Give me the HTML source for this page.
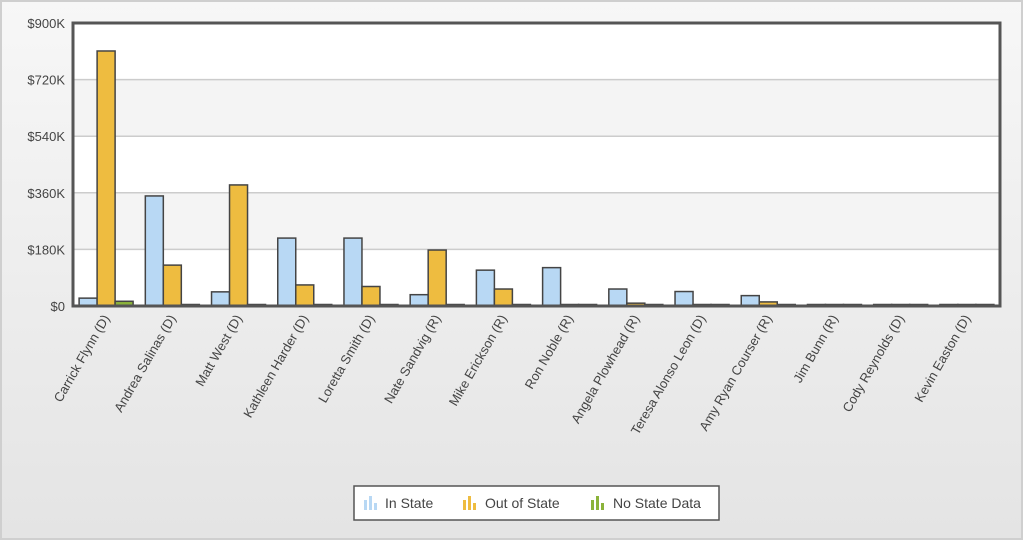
<!DOCTYPE html>
<html><head><meta charset="utf-8"><style>
body{margin:0;width:1024px;height:541px;overflow:hidden;font-family:"Liberation Sans",sans-serif;}
</style></head><body>
<svg width="1024" height="541" xmlns="http://www.w3.org/2000/svg">
<defs><linearGradient id="bg" x1="0" y1="0" x2="0" y2="1"><stop offset="0" stop-color="#f7f7f7"/><stop offset="1" stop-color="#e4e4e4"/></linearGradient></defs>
<rect x="1" y="1" width="1021" height="538" fill="url(#bg)" stroke="#cfcfcf" stroke-width="2"/>
<g id="bands"></g><g id="grid"></g><g id="bars"></g>
<rect x="73" y="23" width="927" height="283" fill="none" stroke="#555" stroke-width="3"/>
<g id="yt"></g><g id="xt"></g>
<g>
<rect x="354" y="486" width="365" height="34" fill="#fff" stroke="#555" stroke-width="1.5"/>
<g fill="#b8d8f4"><rect x="364" y="500" width="3" height="10"/><rect x="369" y="496" width="3" height="14"/><rect x="374" y="503" width="3" height="7"/></g>
<text x="385" y="508" font-size="14" fill="#444">In State</text>
<g fill="#eebc40"><rect x="463" y="500" width="3" height="10"/><rect x="468" y="496" width="3" height="14"/><rect x="473" y="503" width="3" height="7"/></g>
<text x="485" y="508" font-size="14" fill="#444">Out of State</text>
<g fill="#8bb33a"><rect x="591" y="500" width="3" height="10"/><rect x="596" y="496" width="3" height="14"/><rect x="601" y="503" width="3" height="7"/></g>
<text x="613" y="508" font-size="14" fill="#444">No State Data</text>
</g>
</svg>
<script>
const categories=["Carrick Flynn (D)","Andrea Salinas (D)","Matt West (D)","Kathleen Harder (D)","Loretta Smith (D)","Nate Sandvig (R)","Mike Erickson (R)","Ron Noble (R)","Angela Plowhead (R)","Teresa Alonso Leon (D)","Amy Ryan Courser (R)","Jim Bunn (R)","Cody Reynolds (D)","Kevin Easton (D)"];
const inState=[25,350,45,216,216,36,114,122,54,46,33,3,0,0];
const outState=[811,130,385,67,62,178,54,2,9,3,13,3,3,0];
const noState=[15,0,0,0,0,0,0,0,0,0,0,0,0,0];
const yTicks=[0,180,360,540,720,900];
const yLabels=["$0","$180K","$360K","$540K","$720K","$900K"];
const NS="http://www.w3.org/2000/svg";
const L=73,R=1000,T=23,B=306,max=900;
const y=v=>B-(v/max)*(B-T);
const gw=(R-L)/categories.length;
const x=i=>L+i*gw;
function mk(tag,attrs,parent){const e=document.createElementNS(NS,tag);for(const k in attrs)e.setAttribute(k,attrs[k]);document.getElementById(parent).appendChild(e);return e;}
for(let i=0;i<yTicks.length-1;i++){
 const b=mk('rect',{x:L,y:y(yTicks[i+1]),width:R-L,height:y(yTicks[i])-y(yTicks[i+1]),fill:i%2?'#f4f4f4':'#fff'},'bands');
 
 
}
yTicks.forEach((t,i)=>{
 if(i>0&&i<yTicks.length-1){const g=mk('line',{x1:L,x2:R,y1:y(t),y2:y(t),stroke:'#ccc','stroke-width':1.5},'grid');
 
 }
 const tx=mk('text',{x:L-8,y:y(t)+5,'text-anchor':'end','font-size':13,fill:'#444'},'yt');
 
 
 tx.textContent=yLabels[i];
});
const series=[[inState,'#b8d8f4','in-state'],[outState,'#eebc40','out-of-state'],[noState,'#8bb33a','no-state-data']];
const bw=18,pad=(gw-3*bw)/2;
categories.forEach((c,i)=>{
 series.forEach((s,j)=>{
  const v=s[0][i];const top=y(v);
  const r=mk('rect',{x:x(i)+pad+j*bw,y:Math.min(top,B-1.5),width:bw,height:Math.max(B-top,1.5),fill:s[1],stroke:'#444','stroke-width':1.5},'bars');
  
  
 });
 const cx=x(i)+gw/2+4;
 const t=mk('text',{x:cx,y:318,'text-anchor':'end','font-size':13,fill:'#444',transform:`rotate(-60 ${cx} 318)`},'xt');
 
 
 t.textContent=c;
});
</script>
</body></html>
